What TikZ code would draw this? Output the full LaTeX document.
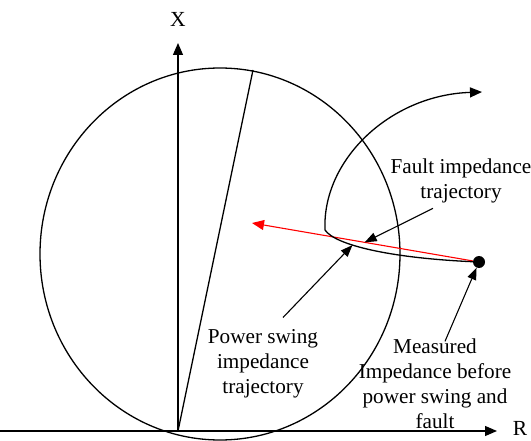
\documentclass[tikz,border=0pt]{standalone}
\usepackage{fontspec}
\setmainfont{Liberation Serif}
\usetikzlibrary{arrows.meta}
\tikzset{
  % --- Truc toa do -------------------------------------------
  axis/.style={-{Triangle[length=12pt,width=10pt]}, line width=1.3pt},
  axlbl/.style={font=\fontsize{21.5}{25}\selectfont, inner sep=0pt},
  % --- Dac tinh mho ------------------------------------------
  mho/.style={line width=1.3pt},
  % --- Quy dao tong tro --------------------------------------
  traj/.style={-{Triangle[length=12pt,width=10pt]}, line width=1.3pt},
  faultl/.style={draw=red, -{Triangle[length=12pt,width=10pt]}, red,
    line width=1.1pt},
  imppt/.style={circle, fill, inner sep=0pt, minimum size=12pt},
  % --- Nhan va mui ten chu thich ------------------------------
  lbl/.style={align=center, font=\fontsize{21.2}{25}\selectfont,
    inner sep=1pt},
  fl/.style={-{Triangle[length=12pt,width=9pt]}, line width=1.1pt}
}
\begin{document}
\begin{tikzpicture}[x=1pt, y=-1pt]
  \useasboundingbox (0,0) rectangle (531,441);

  % --- Truc R, X ---
  \coordinate (O)      at (178,431);
  \coordinate (Xend)   at (178,43);
  \coordinate (Rstart) at (0,431);
  \coordinate (Rend)   at (497,431);
  \node[axlbl] (Xl) at (178,19)  {X};
  \node[axlbl] (Rl) at (520,428) {R};
  \draw[axis] (O) -- (Xend);
  \draw[axis] (Rstart) -- (Rend);

  % --- Vong tron mho va duong kinh ---
  \coordinate (ctr) at (220,254);
  \draw[mho] (ctr) ellipse [x radius=180, y radius=186];
  \coordinate (reach) at (253,70);
  \draw[mho] (O) -- (reach);

  % --- Diem tong tro do truoc dao dong ---
  \node[imppt] (imp) at (479,262) {};

  % --- Quy dao su co (do) ---
  \coordinate (redtip) at (252,223);
  \draw[faultl] (imp) -- coordinate[pos=0.49] (fpt) (redtip);

  % --- Quy dao dao dong cong suat ---
  \coordinate (turn)  at (325,230);
  \coordinate (swtip) at (482,92);
  \draw[traj] (imp) .. controls (390,258) and (335,245) .. (turn)
      coordinate[pos=0.64] (psw)
      .. controls (322,160) and (390,95) .. (swtip);

  % --- Chu thich ---
  \node[lbl] (faultlbl) at (461,181) {Fault impedance\\trajectory};
  \draw[fl] ([xshift=-28pt,yshift=-4pt]faultlbl.south) -- (fpt);

  \node[lbl] (pslbl) at (263,364) {Power swing\\impedance\\trajectory};
  \draw[fl] ([xshift=20pt,yshift=11pt]pslbl.north) -- (psw);

  \node[lbl] (measlbl) at (435,383.5)
    {Measured\\Impedance before\\power swing and\\fault};
  \draw[fl] ([xshift=10pt,yshift=-4pt]measlbl.north) -- (imp);

\end{tikzpicture}
\end{document}
